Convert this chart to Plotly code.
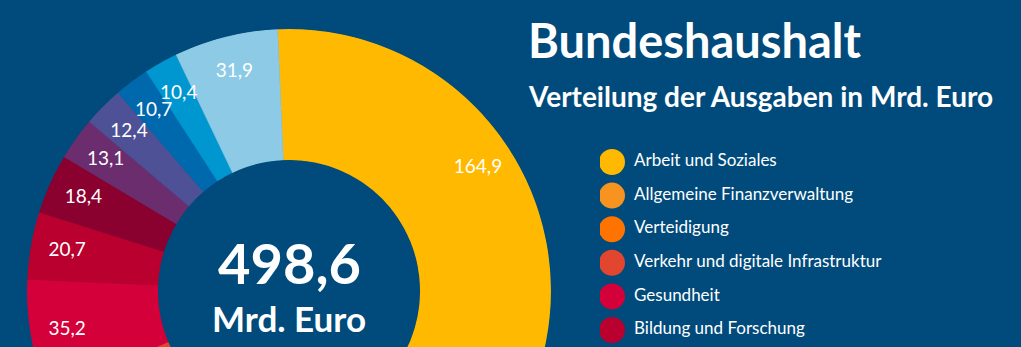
import plotly.graph_objects as go

# ---------------- data ----------------
labels = [
    "Arbeit und Soziales",
    "Allgemeine Finanzverwaltung",
    "Verteidigung",
    "Verkehr und digitale Infrastruktur",
    "Gesundheit",
    "Bildung und Forschung",
    "Inneres, Bau und Heimat",
    "Familie, Senioren, Frauen und Jugend",
    "Wirtschaftliche Zusammenarbeit und Entwicklung",
    "Wirtschaft und Energie",
    "Ernährung und Landwirtschaft",
    "Übrige Einzelpläne",
]
values = [164.9, 92.3, 46.9, 41.7, 35.2, 20.7, 18.4, 13.1, 12.4, 10.7, 10.4, 31.9]
colors = [
    "#FFB900", "#F7931E", "#FF7300", "#E2462F", "#D4003A", "#B9002F",
    "#8A002F", "#6B2D6E", "#4E5195", "#0069AE", "#0096CF", "#8DCAE6",
]
title_text = "Bundeshaushalt"
subtitle_text = "Verteilung der Ausgaben in Mrd. Euro"
unit_text = "Mrd. Euro"

# ---------------- style / layout constants ----------------
BG = "#004B7C"
W, H = 1021, 600
START_DEG = -2.5
FONT = "Lato"


def de(v):
    return f"{v:.1f}".replace(".", ",")


def px_x(x):
    return x / W


def px_y(y):
    return 1 - y / H


total = sum(values)
widths = [v / total * 360 for v in values]
mids = []
acc = START_DEG
for w in widths:
    mids.append(acc + w / 2)
    acc += w

fig = go.Figure()

# donut slices
fig.add_trace(go.Barpolar(
    r=[1] * len(values),
    theta=mids,
    width=widths,
    marker=dict(color=colors, line=dict(color=colors, width=0.6)),
    hoverinfo="skip",
    showlegend=False,
))

# value labels on the slices
fig.add_trace(go.Scatterpolar(
    r=[0.72] * len(values),
    theta=mids,
    mode="text",
    text=[de(v) for v in values],
    textfont=dict(family=FONT, size=19, color="white"),
    hoverinfo="skip",
    showlegend=False,
))

# legend (circles + labels)
fig.add_trace(go.Scatter(
    x=[0] * len(labels), y=labels, mode="markers",
    marker=dict(size=26, color=colors, line=dict(width=0)),
    hoverinfo="skip", showlegend=False,
))
fig.add_trace(go.Scatter(
    x=[1] * len(labels), y=labels, mode="text",
    text=labels, textposition="middle right",
    textfont=dict(family=FONT, size=17, color="white"),
    hoverinfo="skip", showlegend=False,
))

row_h = 33.6
first_c = 162
top_px = first_c - row_h / 2
bot_px = top_px + row_h * len(labels)

fig.update_layout(
    width=W, height=H,
    margin=dict(l=0, r=0, t=0, b=0),
    paper_bgcolor=BG, plot_bgcolor=BG,
    polar=dict(
        domain=dict(x=[px_x(27), px_x(551)], y=[px_y(553), px_y(29)]),
        hole=0.5,
        bgcolor="rgba(0,0,0,0)",
        radialaxis=dict(range=[0, 1], visible=False),
        angularaxis=dict(rotation=90, direction="clockwise", visible=False),
    ),
    xaxis=dict(domain=[px_x(600), 1], range=[-12 / 22, (421 - 12) / 22],
               visible=False, fixedrange=True),
    yaxis=dict(domain=[px_y(bot_px), px_y(top_px)], type="category",
               range=[len(labels) - 0.5, -0.5], visible=False, fixedrange=True),
    font=dict(family=FONT, color="white"),
    annotations=[
        dict(text=title_text, x=px_x(526), y=px_y(40), xref="paper", yref="paper",
             xanchor="left", yanchor="middle", showarrow=False,
             font=dict(family=FONT, size=47, color="white", weight="bold")),
        dict(text=subtitle_text, x=px_x(526), y=px_y(96), xref="paper", yref="paper",
             xanchor="left", yanchor="middle", showarrow=False,
             font=dict(family=FONT, size=28, color="white", weight="bold")),
        dict(text=de(total), x=px_x(289), y=px_y(262), xref="paper", yref="paper",
             xanchor="center", yanchor="middle", showarrow=False,
             font=dict(family=FONT, size=56, color="white", weight="bold")),
        dict(text=unit_text, x=px_x(289), y=px_y(318), xref="paper", yref="paper",
             xanchor="center", yanchor="middle", showarrow=False,
             font=dict(family=FONT, size=35, color="white", weight="bold")),
    ],
)

fig.write_html(
    "out.html",
    config=dict(displayModeBar=False, staticPlot=True),
    post_script="document.documentElement.style.overflow='hidden';document.body.style.overflow='hidden';",
)
